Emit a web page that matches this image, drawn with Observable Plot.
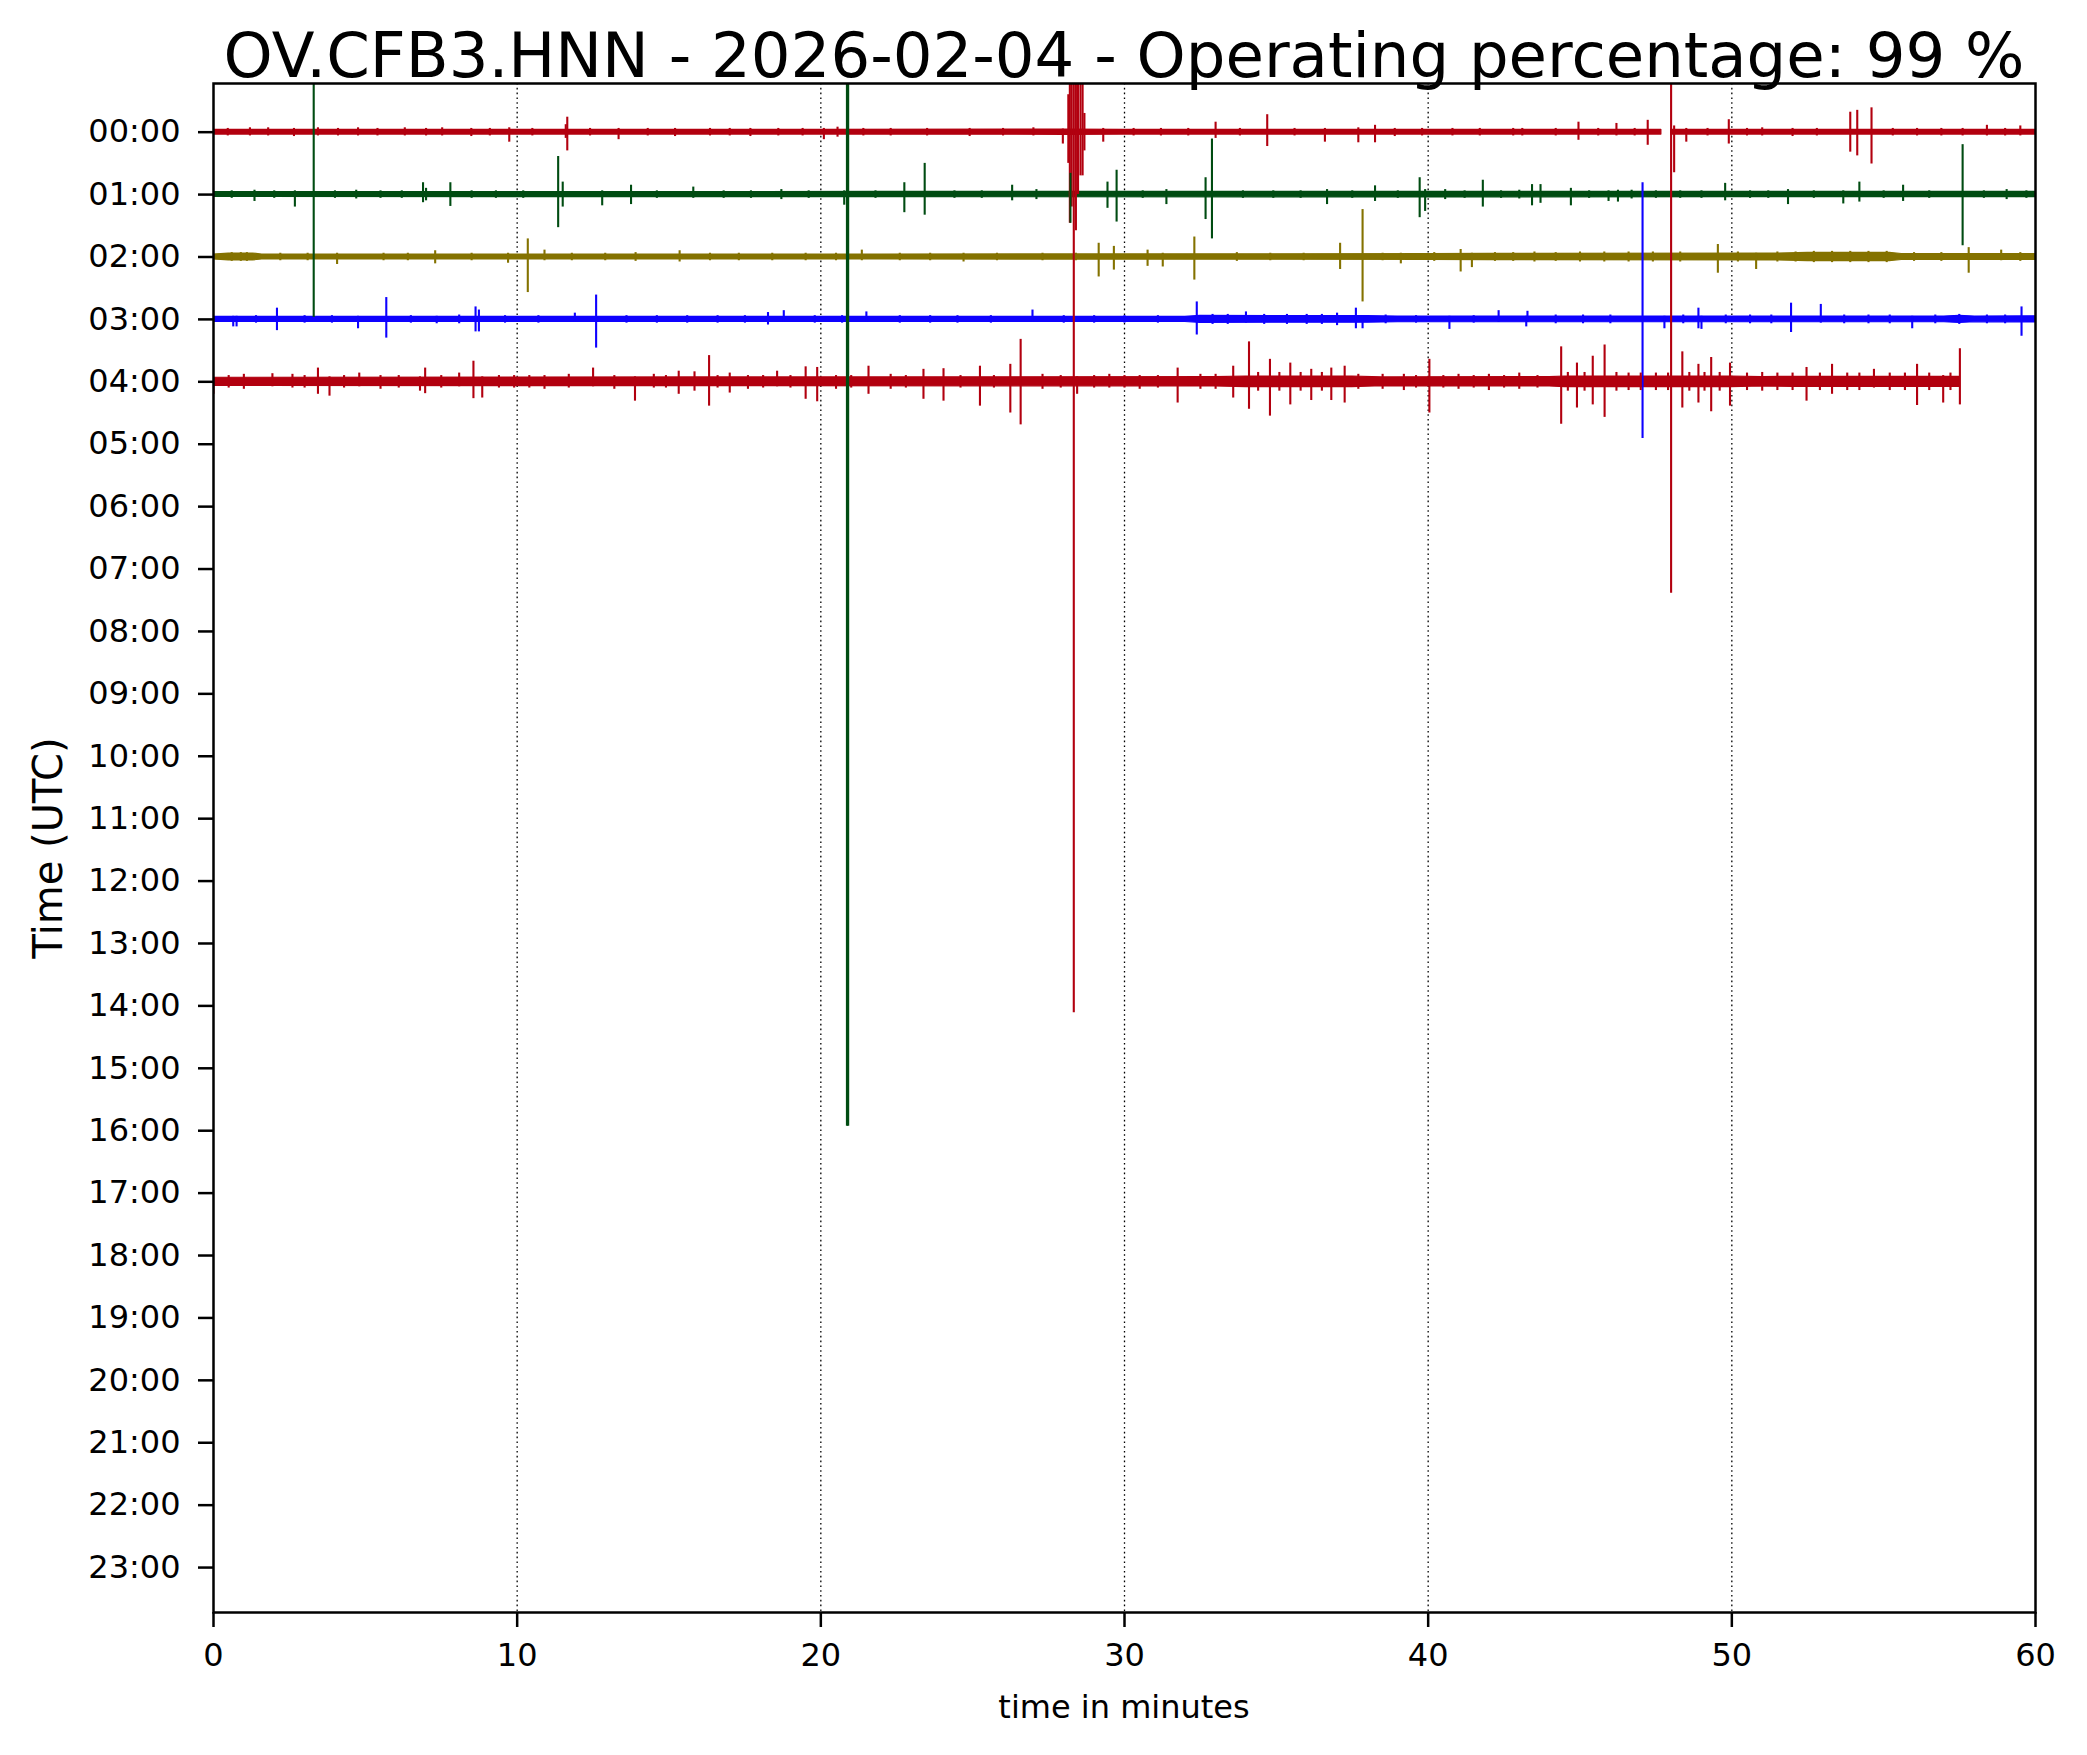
<!DOCTYPE html>
<html>
<head>
<meta charset="utf-8">
<script src="https://cdn.jsdelivr.net/npm/d3@7"></script>
<script src="https://cdn.jsdelivr.net/npm/@observablehq/plot@0.6"></script>
<style>
  html, body { margin: 0; padding: 0; background: #fff; }
  #wrap { position: relative; width: 2087px; height: 1755px; font-family: "DejaVu Sans", sans-serif; color: #000; }
  #title { position: absolute; left: 213px; width: 1822px; top: 25px; font-size: 62.5px; line-height: 62px; text-align: center; white-space: nowrap; }
  #xlabel { position: absolute; left: 213px; width: 1822px; top: 1691px; font-size: 32px; line-height: 32px; text-align: center; }
  #ylabel { position: absolute; left: 48px; top: 848px; font-size: 40px; line-height: 40px; white-space: nowrap; transform: translate(-50%, -50%) rotate(-90deg); }
  #chart { position: absolute; left: 0; top: 0; }
</style>
</head>
<body>
<div id="wrap">
  <div id="chart"></div>
  <div id="title">OV.CFB3.HNN - 2026-02-04 - Operating percentage: 99 %</div>
  <div id="xlabel">time in minutes</div>
  <div id="ylabel">Time (UTC)</div>
</div>
<script>
// ---- data ----
const hourLabels = ["00:00","01:00","02:00","03:00","04:00","05:00","06:00","07:00","08:00","09:00","10:00","11:00",
  "12:00","13:00","14:00","15:00","16:00","17:00","18:00","19:00","20:00","21:00","22:00","23:00"];
const hourTicks = [0,1,2,3,4,5,6,7,8,9,10,11,12,13,14,15,16,17,18,19,20,21,22,23];
const minuteTicks = [0,10,20,30,40,50,60];
const gridMinutes = [10,20,30,40,50];
const traceHours = [0,1,2,3,4];
const traceColors = ["#B2000F","#004C12","#847200","#0E01FF","#B2000F"];

// noise envelope: [minute, half-width in hours] (null = data gap)
const noise0 = [[0,0.038],[20,0.038],[28,0.042],[30,0.038],[47.68,0.038],[47.7,null],[48.0,0.038],[60,0.038]];
const noise1 = [[0,0.038],[22,0.042],[40,0.045],[50,0.042],[60,0.042]];
const noise2 = [[0,0.04],[0.5,0.055],[1.3,0.055],[1.6,0.04],[22,0.04],[40,0.045],[42,0.05],[51.5,0.055],[52.5,0.065],[55.2,0.065],[55.6,0.048],[60,0.048]];
const noise3 = [[0,0.042],[32,0.042],[32.5,0.055],[38,0.052],[39,0.046],[57,0.046],[57.5,0.058],[58,0.046],[60,0.05]];
const noise4 = [[0,0.065],[16,0.07],[33,0.075],[34,0.085],[37.5,0.085],[38.5,0.07],[44,0.075],[44.5,0.085],[50,0.085],[51,0.075],[52,0.08],[57.5,0.08]];

// spikes: [minute, amplitude up (hours), amplitude down (hours)]
const spikes0 = [[0.47,0.06,0.06],[1.2,0.07,0.06],[1.8,0.07,0.06],[2.65,0.06,0.07],[3.44,0.07,0.06],[4.1,0.06,0.06],[4.76,0.07,0.06],[5.4,0.06,0.06],
  [6.3,0.07,0.06],[7.0,0.06,0.06],[7.53,0.07,0.06],[8.49,0.06,0.07],[9.1,0.06,0.06],[9.74,0.07,0.16],[10.5,0.06,0.06],[11.6,0.12,0.1],[11.65,0.24,0.3],
  [12.4,0.06,0.06],[13.34,0.06,0.12],[14.3,0.06,0.06],[15.2,0.06,0.07],[16.35,0.06,0.06],[17.0,0.06,0.06],[17.68,0.06,0.07],[18.6,0.06,0.06],
  [19.4,0.06,0.06],[20.1,0.06,0.12],[20.55,0.08,0.08],[21.4,0.06,0.06],[22.3,0.06,0.06],[23.5,0.06,0.06],[24.9,0.06,0.07],[26.0,0.06,0.06],
  [27.0,0.07,0.06],[27.97,0.05,0.19],[28.15,0.6,0.5],[28.2,3,1.46],[28.26,3,1.2],[28.33,3,14.11],[28.4,3,1.58],[28.47,3,1.0],[28.55,3,0.7],
  [28.62,0.8,0.7],[28.68,0.3,0.3],[29.3,0.06,0.16],[30.3,0.06,0.06],[31.2,0.06,0.06],[32.1,0.06,0.06],[33.0,0.16,0.1],[33.8,0.06,0.06],
  [34.7,0.28,0.23],[35.6,0.06,0.06],[36.6,0.06,0.16],[37.7,0.07,0.17],[38.25,0.11,0.17],[38.9,0.06,0.07],[39.8,0.06,0.06],[40.8,0.06,0.06],
  [41.7,0.06,0.06],[42.8,0.06,0.06],[43.1,0.06,0.06],[44.2,0.06,0.06],[44.95,0.16,0.13],[45.6,0.06,0.06],[46.2,0.14,0.06],[46.8,0.06,0.06],
  [47.23,0.19,0.21],[48.0,3,7.39],[48.1,0.1,0.65],[48.5,0.06,0.16],[49.2,0.06,0.06],[49.9,0.2,0.19],[50.5,0.06,0.06],[51.0,0.07,0.06],
  [52.0,0.06,0.07],[52.8,0.06,0.06],[53.9,0.32,0.32],[54.13,0.35,0.38],[54.6,0.39,0.51],[55.3,0.06,0.06],[56.1,0.06,0.06],[56.9,0.06,0.06],
  [57.6,0.06,0.06],[58.4,0.11,0.06],[59.0,0.06,0.06],[59.5,0.1,0.06]];
const spikes1 = [[0.6,0.06,0.06],[1.35,0.07,0.11],[2.0,0.06,0.06],[2.68,0.06,0.2],[3.3,3,1.97],[4.0,0.06,0.06],[4.7,0.07,0.07],[5.5,0.06,0.06],
  [6.2,0.06,0.06],[6.9,0.19,0.13],[7.0,0.1,0.1],[7.8,0.19,0.19],[8.5,0.06,0.06],[9.3,0.06,0.06],[10.2,0.06,0.06],[11.35,0.61,0.53],[11.5,0.2,0.2],
  [12.8,0.06,0.18],[13.75,0.15,0.16],[14.6,0.06,0.06],[15.8,0.12,0.06],[16.8,0.06,0.06],[17.7,0.06,0.06],[18.7,0.08,0.08],[19.6,0.06,0.06],
  [20.77,0.06,0.17],[20.86,3,14.93],[20.9,3,14.93],[21.8,0.06,0.06],[22.75,0.19,0.29],[23.42,0.5,0.33],[24.4,0.06,0.06],[25.3,0.06,0.06],
  [26.3,0.15,0.1],[27.1,0.08,0.08],[28.22,0.34,0.46],[29.44,0.2,0.22],[29.74,0.39,0.44],[30.6,0.06,0.06],[31.38,0.08,0.16],[32.67,0.27,0.4],
  [32.88,0.89,0.71],[33.9,0.06,0.06],[34.9,0.06,0.06],[35.8,0.06,0.06],[36.67,0.08,0.16],[37.5,0.06,0.06],[38.25,0.14,0.11],[39.0,0.06,0.06],
  [39.72,0.27,0.37],[39.9,0.08,0.27],[40.56,0.08,0.08],[41.2,0.06,0.06],[41.8,0.23,0.2],[42.4,0.06,0.06],[43.0,0.07,0.07],[43.42,0.16,0.18],
  [43.7,0.16,0.14],[44.7,0.1,0.18],[45.3,0.06,0.06],[45.94,0.06,0.11],[46.25,0.07,0.12],[46.7,0.07,0.07],[47.5,0.06,0.06],[48.3,0.06,0.06],
  [49.0,0.06,0.06],[49.78,0.18,0.1],[50.6,0.06,0.06],[51.2,0.06,0.06],[51.85,0.08,0.16],[52.7,0.06,0.06],[53.67,0.06,0.15],[54.2,0.2,0.12],
  [55.0,0.06,0.06],[55.64,0.15,0.11],[56.5,0.06,0.06],[57.6,0.8,0.82],[58.3,0.06,0.06],[59.05,0.08,0.08],[59.7,0.06,0.06]];
const spikes2 = [[0.6,0.07,0.07],[0.9,0.07,0.07],[1.1,0.07,0.07],[2.2,0.06,0.06],[3.1,0.06,0.06],[4.07,0.06,0.12],[5.6,0.06,0.06],[6.4,0.06,0.06],
  [7.3,0.1,0.11],[8.5,0.06,0.06],[9.7,0.06,0.1],[10.35,0.29,0.57],[10.9,0.11,0.06],[11.8,0.06,0.06],[12.9,0.06,0.06],[13.9,0.07,0.07],
  [15.35,0.1,0.08],[16.35,0.06,0.06],[17.3,0.06,0.06],[18.4,0.06,0.06],[19.5,0.06,0.06],[20.5,0.06,0.06],[21.35,0.11,0.06],[22.6,0.06,0.06],
  [23.6,0.06,0.06],[24.7,0.06,0.08],[25.8,0.06,0.06],[27.3,0.06,0.06],[28.4,0.06,0.06],[29.15,0.22,0.32],[29.65,0.17,0.21],[30.76,0.11,0.15],
  [31.26,0.06,0.16],[32.3,0.32,0.37],[33.7,0.07,0.07],[34.8,0.06,0.06],[35.9,0.06,0.06],[37.1,0.22,0.2],[37.84,0.76,0.72],[38.5,0.06,0.06],
  [39.1,0.06,0.11],[40.2,0.07,0.07],[41.07,0.12,0.24],[41.44,0.06,0.17],[42.2,0.07,0.07],[42.8,0.07,0.07],[43.5,0.08,0.08],[44.2,0.07,0.07],
  [45.0,0.08,0.08],[45.8,0.08,0.08],[46.6,0.08,0.08],[47.4,0.08,0.08],[48.3,0.08,0.08],[49.54,0.2,0.26],[50.2,0.08,0.08],[50.8,0.06,0.2],
  [51.5,0.08,0.08],[52.1,0.08,0.08],[52.7,0.09,0.09],[53.3,0.09,0.09],[53.9,0.09,0.09],[54.5,0.09,0.09],[55.1,0.09,0.09],[56.0,0.07,0.07],
  [56.9,0.07,0.07],[57.8,0.15,0.26],[58.87,0.11,0.06],[59.5,0.07,0.07]];
const spikes3 = [[0.65,0.05,0.12],[0.76,0.05,0.12],[1.4,0.06,0.06],[2.09,0.18,0.18],[3.0,0.06,0.06],[3.9,0.06,0.06],[4.76,0.05,0.15],
  [5.69,0.35,0.3],[6.5,0.06,0.06],[7.35,0.05,0.07],[8.09,0.07,0.07],[8.63,0.2,0.2],[8.74,0.15,0.2],[9.6,0.06,0.06],[10.7,0.06,0.06],
  [11.9,0.1,0.05],[12.6,0.39,0.46],[13.6,0.06,0.06],[14.6,0.06,0.06],[15.6,0.06,0.06],[16.6,0.06,0.06],[17.5,0.06,0.06],[18.26,0.11,0.09],
  [18.78,0.14,0.05],[19.8,0.06,0.06],[20.7,0.06,0.06],[21.5,0.12,0.05],[22.6,0.06,0.06],[23.6,0.06,0.06],[24.5,0.06,0.06],[25.6,0.06,0.06],
  [26.97,0.15,0.05],[28.0,0.06,0.06],[29.0,0.06,0.06],[30.0,0.06,0.06],[31.1,0.06,0.06],[32.38,0.28,0.25],[32.9,0.08,0.08],[33.4,0.08,0.08],
  [34.0,0.12,0.06],[34.6,0.08,0.08],[35.35,0.08,0.08],[36.0,0.08,0.08],[36.5,0.08,0.08],[37.0,0.1,0.1],[37.62,0.18,0.15],[37.84,0.06,0.15],
  [38.6,0.07,0.07],[39.6,0.06,0.06],[40.7,0.05,0.16],[41.5,0.06,0.06],[42.32,0.14,0.05],[43.23,0.05,0.12],[43.27,0.13,0.05],[44.2,0.07,0.07],
  [45.1,0.07,0.07],[46.0,0.07,0.07],[47.06,2.19,1.91],[47.78,0.05,0.15],[48.4,0.07,0.07],[48.9,0.18,0.15],[49.0,0.05,0.16],[49.8,0.07,0.07],
  [50.6,0.07,0.07],[51.3,0.07,0.07],[51.95,0.26,0.21],[52.93,0.24,0.06],[53.7,0.07,0.07],[54.5,0.07,0.07],[55.2,0.07,0.07],[55.94,0.05,0.15],
  [56.7,0.07,0.07],[57.49,0.08,0.08],[58.4,0.07,0.07],[59.0,0.07,0.07],[59.54,0.2,0.27]];
const spikes4 = [[0.0,0.05,0.2],[0.5,0.1,0.1],[1.0,0.12,0.12],[1.94,0.13,0.08],[2.6,0.12,0.1],[3.0,0.1,0.1],[3.44,0.22,0.2],[3.82,0.08,0.23],
  [4.3,0.1,0.1],[4.8,0.14,0.08],[5.5,0.1,0.12],[6.1,0.1,0.1],[6.8,0.08,0.15],[6.97,0.22,0.19],[7.5,0.1,0.1],[8.09,0.14,0.08],[8.56,0.33,0.27],
  [8.85,0.08,0.26],[9.4,0.1,0.1],[9.9,0.1,0.1],[10.4,0.1,0.1],[10.9,0.1,0.12],[11.7,0.12,0.1],[12.5,0.22,0.08],[13.2,0.1,0.12],[13.88,0.08,0.31],
  [14.5,0.12,0.1],[14.9,0.1,0.1],[15.32,0.17,0.2],[15.84,0.16,0.15],[16.32,0.42,0.39],[16.6,0.1,0.1],[17.0,0.14,0.18],[17.6,0.1,0.12],[18.1,0.1,0.1],
  [18.56,0.17,0.08],[19.0,0.1,0.1],[19.5,0.24,0.28],[19.88,0.23,0.32],[20.5,0.1,0.12],[21.0,0.1,0.1],[21.57,0.25,0.2],[22.3,0.12,0.12],[22.8,0.1,0.1],
  [23.38,0.2,0.28],[24.04,0.21,0.31],[24.6,0.1,0.1],[25.24,0.25,0.39],[25.7,0.1,0.1],[26.24,0.28,0.5],[26.58,0.68,0.69],[27.3,0.12,0.12],
  [27.9,0.1,0.1],[28.44,0.08,0.2],[29.0,0.1,0.1],[29.5,0.12,0.1],[30.0,0.1,0.1],[30.5,0.1,0.12],[31.1,0.1,0.1],[31.75,0.22,0.34],[32.5,0.12,0.12],
  [33.0,0.12,0.12],[33.58,0.25,0.26],[34.1,0.64,0.44],[34.4,0.15,0.15],[34.79,0.36,0.55],[35.1,0.15,0.15],[35.46,0.3,0.37],[35.8,0.15,0.15],
  [36.15,0.2,0.3],[36.5,0.15,0.15],[36.81,0.22,0.3],[37.25,0.25,0.34],[37.7,0.12,0.12],[38.5,0.12,0.12],[39.2,0.12,0.14],[39.6,0.1,0.1],
  [40.04,0.36,0.5],[40.5,0.1,0.1],[41.0,0.12,0.12],[41.5,0.1,0.1],[42.0,0.12,0.14],[42.5,0.1,0.1],[43.0,0.14,0.12],[43.6,0.1,0.1],[44.38,0.56,0.68],
  [44.6,0.15,0.15],[44.9,0.3,0.42],[45.15,0.15,0.15],[45.42,0.41,0.37],[45.81,0.59,0.57],[46.2,0.15,0.15],[46.6,0.14,0.14],[47.0,0.14,0.14],
  [47.5,0.14,0.14],[47.9,0.14,0.14],[48.37,0.48,0.42],[48.6,0.15,0.15],[48.9,0.28,0.34],[49.1,0.15,0.15],[49.32,0.39,0.48],[49.6,0.15,0.15],
  [49.94,0.3,0.39],[50.5,0.14,0.14],[51.0,0.15,0.15],[51.5,0.14,0.14],[52.0,0.14,0.14],[52.46,0.23,0.31],[52.9,0.14,0.14],[53.3,0.28,0.2],
  [53.8,0.14,0.14],[54.2,0.14,0.14],[54.68,0.2,0.1],[55.2,0.14,0.14],[55.7,0.14,0.14],[56.1,0.28,0.38],[56.5,0.14,0.14],[56.96,0.1,0.34],
  [57.2,0.14,0.14],[57.51,0.53,0.37]];

const noiseSets = [noise0, noise1, noise2, noise3, noise4];
const spikeSets = [spikes0, spikes1, spikes2, spikes3, spikes4];

// ---- build tables ----
const bandMarks = [];
const spikeMarks = [];
traceHours.forEach((h, t) => {
  const band = noiseSets[t].map(([m, w]) => ({m, lo: w == null ? NaN : h - w, hi: w == null ? NaN : h + w}));
  bandMarks.push(Plot.areaY(band, {x: "m", y1: "lo", y2: "hi", fill: traceColors[t], stroke: traceColors[t], strokeWidth: 1.2, clip: true}));
  const sp = spikeSets[t].map(([m, up, dn]) => ({m, top: h - up, bottom: h + dn}));
  spikeMarks.push(Plot.ruleX(sp, {x: "m", y1: "top", y2: "bottom", stroke: traceColors[t], strokeWidth: 2.1, clip: true}));
});

const chart = Plot.plot({
  width: 2087,
  height: 1755,
  marginLeft: 213,
  marginRight: 52,
  marginTop: 83,
  marginBottom: 143,
  style: {fontFamily: "'DejaVu Sans', sans-serif", fontSize: "32px", color: "#000", background: "#fff"},
  x: {domain: [0, 60]},
  y: {domain: [-0.78, 23.72], reverse: true},
  marks: [
    Plot.ruleX(gridMinutes, {stroke: "#000", strokeWidth: 1.3, strokeDasharray: "1.6,3.2"}),
    ...bandMarks,
    ...spikeMarks,
    Plot.frame({stroke: "#000", strokeWidth: 2.5}),
    Plot.axisY(hourTicks, {tickFormat: (d, i) => hourLabels[d], tickSize: 15, tickPadding: 18, strokeWidth: 2.5, fontSize: 32, label: null}),
    Plot.axisX(minuteTicks, {tickFormat: d => String(d), tickSize: 15, tickPadding: 16, strokeWidth: 2.5, fontSize: 32, label: null})
  ]
});
document.getElementById("chart").appendChild(chart);
</script>
</body>
</html>
